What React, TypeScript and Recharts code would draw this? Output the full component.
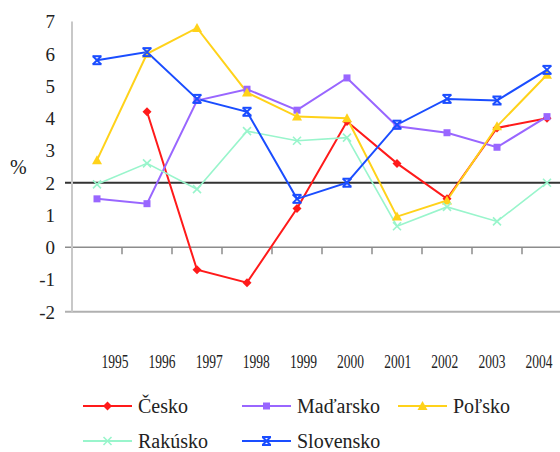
import React from 'react';
import { LineChart, Line, XAxis, YAxis, ReferenceLine, Legend } from 'recharts';

const years = ['1995', '1996', '1997', '1998', '1999', '2000', '2001', '2002', '2003', '2004'];
const cesko = [null, 4.2, -0.7, -1.1, 1.2, 3.9, 2.6, 1.5, 3.7, 4.0];
const madarsko = [1.5, 1.35, 4.55, 4.9, 4.25, 5.25, 3.75, 3.55, 3.1, 4.05];
const polsko = [2.7, 6.0, 6.8, 4.8, 4.05, 4.0, 0.95, 1.45, 3.75, 5.35];
const rakusko = [1.95, 2.6, 1.8, 3.6, 3.3, 3.4, 0.65, 1.25, 0.8, 2.0];
const slovensko = [5.8, 6.05, 4.6, 4.2, 1.5, 2.0, 3.8, 4.6, 4.55, 5.5];
const yTicks = [-2, -1, 0, 1, 2, 3, 4, 5, 6, 7];

const FONT = '"Liberation Serif", "Times New Roman", Times, serif';

const series = [
  { key: 'cesko', name: 'Česko', color: '#ff1a1a', shape: 'diamond', width: 2 },
  { key: 'madarsko', name: 'Maďarsko', color: '#9966ff', shape: 'square', width: 2 },
  { key: 'polsko', name: 'Poľsko', color: '#ffd21a', shape: 'triangle', width: 2 },
  { key: 'rakusko', name: 'Rakúsko', color: '#99f5cc', shape: 'cross', width: 1.6 },
  { key: 'slovensko', name: 'Slovensko', color: '#1a4dff', shape: 'star', width: 2 },
];

const data = years.map((year, i) => ({
  year,
  cesko: cesko[i],
  madarsko: madarsko[i],
  polsko: polsko[i],
  rakusko: rakusko[i],
  slovensko: slovensko[i],
}));

function Marker({ shape, color, cx, cy }: { shape: string; color: string; cx: number; cy: number }) {
  switch (shape) {
    case 'diamond':
      return <polygon points={`${cx},${cy - 4.5} ${cx + 4.5},${cy} ${cx},${cy + 4.5} ${cx - 4.5},${cy}`} fill={color} />;
    case 'square':
      return <rect x={cx - 3.5} y={cy - 3.5} width={7} height={7} fill={color} />;
    case 'triangle':
      return <polygon points={`${cx},${cy - 5} ${cx + 5},${cy + 4} ${cx - 5},${cy + 4}`} fill={color} />;
    case 'cross':
      return (
        <g stroke={color} strokeWidth={1.6}>
          <line x1={cx - 4} y1={cy - 4} x2={cx + 4} y2={cy + 4} />
          <line x1={cx - 4} y1={cy + 4} x2={cx + 4} y2={cy - 4} />
        </g>
      );
    default:
      return (
        <g stroke={color} strokeWidth={2}>
          <line x1={cx - 4} y1={cy - 4} x2={cx + 4} y2={cy + 4} />
          <line x1={cx - 4} y1={cy + 4} x2={cx + 4} y2={cy - 4} />
          <line x1={cx - 4.5} y1={cy - 4} x2={cx + 4.5} y2={cy - 4} />
          <line x1={cx - 4.5} y1={cy + 4} x2={cx + 4.5} y2={cy + 4} />
        </g>
      );
  }
}

const makeDot = (shape: string, color: string) => (props: any) => {
  const { cx, cy, index, value } = props;
  if (cx == null || cy == null || value == null || (Array.isArray(value) && value[1] == null)) {
    return <g key={`e-${index}`} />;
  }
  return (
    <g key={`d-${index}`}>
      <Marker shape={shape} color={color} cx={cx} cy={cy} />
    </g>
  );
};

const XLabelTick = (props: any) => {
  const { x, y, payload } = props;
  return (
    <text
      x={x}
      y={y + 20}
      textAnchor="middle"
      fill="#222"
      textLength={27}
      lengthAdjust="spacingAndGlyphs"
      style={{ fontSize: 18, fontFamily: FONT }}
    >
      {payload.value}
    </text>
  );
};

const YTick = (props: any) => {
  const { x, y, payload } = props;
  return (
    <text x={x} y={y} dy="0.36em" textAnchor="end" fill="#222" style={{ fontSize: 19, fontFamily: FONT }}>
      {payload.value}
    </text>
  );
};

const makeRefShape = (stroke: string, strokeWidth: number, withTicks: boolean) => (props: any) => {
  const { x1, y1, x2, y2 } = props;
  const n = years.length;
  const band = (x2 - x1) / n;
  const ticks = withTicks ? years.slice(1).map((_, k) => x1 + band * (k + 1)) : [];
  return (
    <g>
      <line x1={x1 - 7} y1={y1} x2={x2} y2={y2} stroke={stroke} strokeWidth={strokeWidth} />
      {ticks.map((tx, k) => (
        <line key={k} x1={tx} y1={y1} x2={tx} y2={y1 + 7} stroke={stroke} strokeWidth={1.5} />
      ))}
    </g>
  );
};

const legendLayout = [
  { x: 83, y: 16 },
  { x: 242, y: 16 },
  { x: 398, y: 16 },
  { x: 83, y: 51 },
  { x: 242, y: 51 },
];

const LegendContent = () => (
  <svg width={560} height={62} style={{ display: 'block' }}>
    {series.map((s, i) => {
      const p = legendLayout[i];
      return (
        <g key={s.key}>
          <line x1={p.x} y1={p.y} x2={p.x + 49} y2={p.y} stroke={s.color} strokeWidth={2} />
          <Marker shape={s.shape} color={s.color} cx={p.x + 24.5} cy={p.y} />
          <text x={p.x + 55} y={p.y} dy="0.33em" fill="#222" style={{ fontSize: 20, fontFamily: FONT }}>
            {s.name}
          </text>
        </g>
      );
    })}
  </svg>
);

export default function App() {
  return (
    <div style={{ position: 'absolute', left: 0, top: 0, width: 560, height: 452, overflow: 'hidden', background: '#fff' }}>
      <LineChart
        width={600}
        height={452}
        data={data}
        margin={{ top: 21.5, right: 28, left: 0, bottom: 100.3 }}
      >
        <XAxis dataKey="year" hide padding={{ left: 25, right: 25 }} />
        <XAxis
          xAxisId="lab"
          dataKey="year"
          padding={{ left: 43, right: 33 }}
          axisLine={false}
          tickLine={false}
          tickMargin={0}
          height={40}
          interval={0}
          tick={<XLabelTick />}
        />
        <YAxis
          domain={[-2, 7]}
          ticks={yTicks}
          interval={0}
          width={72}
          tickLine={false}
          tickMargin={11}
          axisLine={{ stroke: '#c8c8c8', strokeWidth: 2 }}
          tick={<YTick />}
          label={{ value: '%', position: 'insideLeft', offset: 10, fill: '#222', style: { fontSize: 20, fontFamily: FONT } }}
        />
        <ReferenceLine y={-2} shape={makeRefShape('#b0b0b0', 2, false)} />
        <ReferenceLine y={0} shape={makeRefShape('#8c8c8c', 1.5, true)} />
        <ReferenceLine y={2} shape={makeRefShape('#333333', 2, false)} />
        {series.map((s) => (
          <Line
            key={s.key}
            type="linear"
            dataKey={s.key}
            name={s.name}
            stroke={s.color}
            strokeWidth={s.width}
            dot={makeDot(s.shape, s.color)}
            activeDot={false}
            isAnimationActive={false}
            connectNulls={false}
          />
        ))}
        <Legend
          layout="horizontal"
          verticalAlign="middle"
          align="center"
          wrapperStyle={{ top: 390, left: 0, width: 560 }}
          content={() => <LegendContent />}
        />
      </LineChart>
    </div>
  );
}
